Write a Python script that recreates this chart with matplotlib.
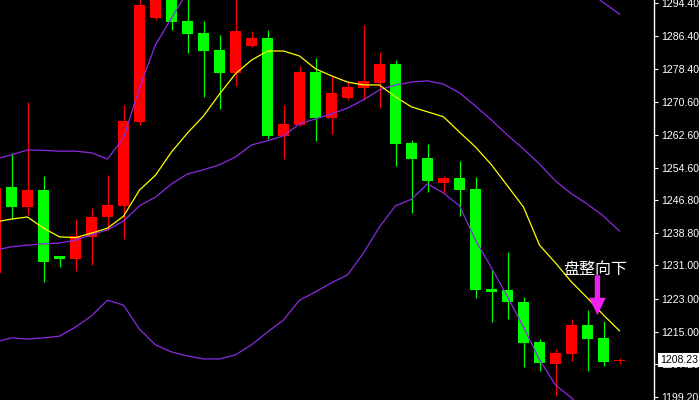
import matplotlib
matplotlib.use("Agg")
import matplotlib.pyplot as plt
import matplotlib.transforms as mtransforms
import numpy as np

# candle index (-1 is the partly hidden bar at the left edge)
idx = list(range(-1, 39))

opens = [1229.2, 1249.9, 1245.1, 1249.2, 1233.3, 1232.6, 1237.9, 1242.7, 1245.4, 1265.7,
         1290.8, 1296.1, 1290.1, 1287.2, 1283.0, 1277.5, 1284.0, 1285.9, 1262.3, 1264.9,
         1277.7, 1266.6, 1271.5, 1273.9, 1275.1, 1279.7, 1260.6, 1257.0, 1250.9, 1252.1,
         1249.5, 1225.3, 1225.1, 1222.2, 1212.5, 1207.2, 1209.6, 1216.6, 1213.5, 1207.8]
closes = [1249.7, 1245.1, 1249.2, 1231.8, 1232.6, 1238.1, 1242.7, 1245.6, 1265.9, 1293.9,
          1295.6, 1289.8, 1286.9, 1282.8, 1277.5, 1287.6, 1285.9, 1262.3, 1265.2, 1277.7,
          1266.6, 1272.7, 1274.1, 1275.6, 1279.7, 1260.3, 1256.7, 1251.4, 1252.1, 1249.2,
          1225.1, 1224.6, 1222.1, 1212.3, 1207.4, 1209.8, 1216.6, 1213.2, 1207.7, 1208.23]
highs = [1250.5, 1258.2, 1270.5, 1252.6, 1233.3, 1242.2, 1244.9, 1252.8, 1269.8, 1295.9,
         1296.6, 1297.1, 1296.0, 1290.1, 1286.7, 1296.1, 1287.6, 1287.9, 1269.8, 1279.2,
         1281.1, 1276.8, 1275.3, 1289.1, 1282.6, 1280.6, 1261.3, 1260.3, 1252.6, 1256.2,
         1252.4, 1229.9, 1234.2, 1223.4, 1213.2, 1210.8, 1218.1, 1220.2, 1217.6, 1208.6]
lows = [1228.5, 1242.2, 1243.2, 1227.0, 1230.6, 1229.7, 1231.1, 1239.6, 1237.4, 1264.9,
        1290.3, 1287.9, 1282.3, 1271.7, 1268.8, 1274.4, 1283.8, 1261.5, 1256.7, 1264.7,
        1261.1, 1262.8, 1271.0, 1271.0, 1269.0, 1255.0, 1243.7, 1248.7, 1248.5, 1242.9,
        1223.1, 1217.3, 1218.1, 1206.5, 1205.5, 1199.5, 1207.9, 1205.5, 1206.7, 1207.2]

ma_line = [1241.5, 1242.2, 1242.7, 1240.0, 1237.9, 1237.7, 1238.8, 1240.0, 1242.9, 1249.2,
           1252.8, 1258.4, 1263.0, 1267.1, 1272.4, 1277.3, 1280.6, 1282.8, 1282.8, 1281.6,
           1278.5, 1276.8, 1275.3, 1274.6, 1274.6, 1271.7, 1269.3, 1268.1, 1266.9, 1263.2,
           1259.6, 1255.3, 1250.2, 1245.1, 1235.9, 1231.6, 1227.0, 1223.1, 1219.0, 1215.2]
boll_up = [1256.7, 1257.7, 1258.9, 1258.8, 1258.6, 1258.6, 1258.2, 1256.7, 1261.8, 1273.9,
           1284.3, 1290.8, 1297.1, 1299.7, 1302.1, 1305.0, 1308.4, 1307.2, 1306.7, 1307.7,
           1308.2, 1308.4, 1309.4, 1307.9, 1306.5, 1303.8, 1303.6, 1300.4, 1301.2, 1303.3,
           1301.9, 1301.9, 1301.7, 1302.1, 1302.9, 1302.4, 1300.0, 1297.3, 1294.5, 1291.7]
boll_mid = [1234.7, 1235.5, 1235.9, 1236.2, 1236.4, 1237.1, 1238.4, 1239.6, 1241.7, 1245.4,
            1247.5, 1250.7, 1253.1, 1254.1, 1255.3, 1257.2, 1260.1, 1261.1, 1262.3, 1265.2,
            1266.4, 1267.6, 1269.0, 1271.0, 1273.4, 1274.6, 1275.3, 1275.6, 1274.8, 1272.7,
            1269.5, 1266.1, 1262.5, 1259.1, 1255.5, 1251.4, 1248.3, 1245.8, 1242.9, 1239.3]
boll_low = [1212.5, 1213.5, 1213.2, 1213.5, 1213.9, 1216.1, 1218.8, 1222.6, 1221.4, 1215.6,
            1211.8, 1210.1, 1209.1, 1208.4, 1208.4, 1209.4, 1211.8, 1214.9, 1217.8, 1222.6,
            1224.6, 1226.8, 1228.7, 1234.0, 1240.3, 1245.4, 1247.0, 1250.7, 1248.5, 1245.4,
            1237.1, 1230.4, 1223.4, 1216.1, 1208.2, 1202.1, 1199.0, 1194.4, 1191.7, 1186.9]

tick_vals = [1294.40, 1286.40, 1278.40, 1270.60, 1262.60, 1254.60, 1246.80,
             1238.80, 1231.00, 1223.00, 1215.00, 1207.20, 1199.20]
tick_labels = [f"{v:.2f}" for v in tick_vals]
last_price = 1208.23
note_text = "盘整向下"

plt.rcParams['font.family'] = ['Liberation Sans', 'DejaVu Sans']

fig = plt.figure(figsize=(6.99, 4.0), dpi=100, facecolor="black")
ax = fig.add_axes([0, 0, 654 / 699, 1])
ax.set_facecolor("black")

x = np.array(idx)
o = np.array(opens)
c = np.array(closes)
cols = np.where(c >= o, "#ff0000", "#00ff00")

ax.vlines(x, lows, highs, colors=cols, linewidth=0.9, zorder=2)
ax.bar(x, np.maximum(np.abs(c - o), 0.45), bottom=np.minimum(o, c), width=0.69,
       color=cols, linewidth=0, zorder=3)

purple = "#8b2be2"
ax.plot(x, boll_up, color=purple, lw=0.9, zorder=4)
ax.plot(x, boll_mid, color=purple, lw=0.9, zorder=4)
ax.plot(x, boll_low, color=purple, lw=0.9, zorder=4)
ax.plot(x, ma_line, color="#ffff00", lw=0.9, zorder=5)

ax.set_xlim(-11.5 / 16, (654 - 11.5) / 16)
ax.set_ylim(1198.48, 1295.125)

for side in ["left", "top", "bottom"]:
    ax.spines[side].set_visible(False)
ax.spines["right"].set_color("white")
ax.spines["right"].set_linewidth(1.0)
ax.set_xticks([])
ax.yaxis.tick_right()
ax.set_yticks(tick_vals, tick_labels)
ax.tick_params(axis="y", colors="white", length=3, width=0.8, pad=2, labelsize=7.6)

# last price box
trans = mtransforms.blended_transform_factory(ax.transAxes, ax.transData)
ax.text(1.009, last_price, f"{last_price:.2f}", transform=trans, ha="left", va="center",
        color="black", fontsize=7.6, clip_on=False, zorder=10,
        bbox=dict(boxstyle="square,pad=0.2", fc="white", ec="none"))

# annotation
ax.text(36.47, 1229.9, note_text, color="white", fontsize=11.5, ha="center", va="center",
        family=["Noto Sans CJK SC", "DejaVu Sans"], zorder=6)
ax.annotate("", xy=(36.62, 1219.0), xytext=(36.62, 1228.6),
            arrowprops=dict(arrowstyle="simple,head_width=1.2,head_length=1.25,tail_width=0.38",
                            mutation_scale=10, shrinkA=0, shrinkB=0,
                            color="#f020f0", lw=0), zorder=6)

fig.savefig("out.png", dpi=100, facecolor="black")
